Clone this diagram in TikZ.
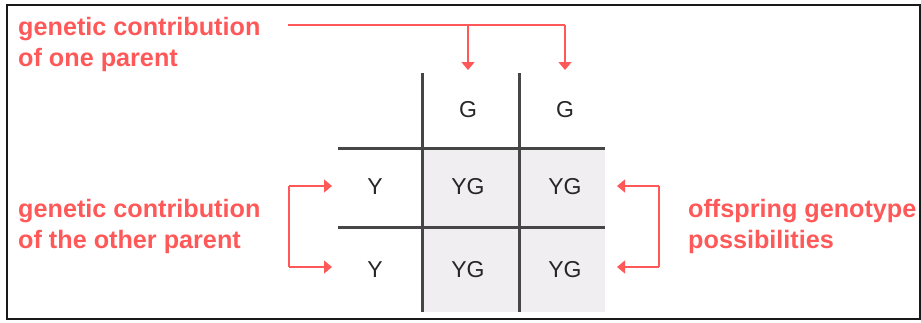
\documentclass[tikz,border=0pt]{standalone}
\usepackage{fontspec}
\setmainfont{Liberation Sans}
\usetikzlibrary{arrows.meta}
\definecolor{lblred}{RGB}{255,88,88}
\definecolor{gridgray}{RGB}{70,70,70}
\definecolor{cellfill}{RGB}{240,238,240}
\tikzset{
  lbl/.style={text=lblred, font=\bfseries\fontsize{25.2}{30.5}\selectfont, align=left, inner sep=0pt, anchor=base west},
  cell/.style={text=black!85, font=\fontsize{23}{23}\selectfont, inner sep=0pt},
  gridline/.style={draw=gridgray, line width=3pt},
  redarrow/.style={draw=lblred, line width=1.4pt, -{Triangle[width=13pt,length=8pt]}},
  redline/.style={draw=lblred, line width=1.4pt},
}
\begin{document}
\begin{tikzpicture}[x=1pt,y=-1pt]
\useasboundingbox (0,0) rectangle (921,322);
% frame
\draw[line width=2pt, draw=black!90] (7,5) rectangle (920,319);
% shaded offspring cells
\fill[cellfill] (422,148) rectangle (605,312);
% grid
\draw[gridline] (422,73) -- (422,312);
\draw[gridline] (519,73) -- (519,312);
\draw[gridline] (338,148) -- (605,148);
\draw[gridline] (338,227) -- (605,227);
% cell labels
\node[cell] (g1) at (468,110) {G};
\node[cell] (g2) at (565,110) {G};
\node[cell] (y1) at (375,187) {Y};
\node[cell] (y2) at (375,270) {Y};
\node[cell] (c11) at (468,187) {YG};
\node[cell] (c12) at (565,187) {YG};
\node[cell] (c21) at (468,270) {YG};
\node[cell] (c22) at (565,270) {YG};
% labels (anchor at baseline of last line)
\node[lbl] (top) at (18,66) {genetic contribution\\of one parent};
\node[lbl] (left) at (18,248) {genetic contribution\\of the other parent};
\node[lbl] (right) at (688,248) {offspring genotype\\possibilities};
% coordinates for connectors
\coordinate (ts) at (288,25);
\coordinate (tj) at (g1 |- ts);
\coordinate (tk) at (g2 |- ts);
\coordinate (ta1) at (468,70);
\coordinate (ta2) at (565,70);
\coordinate (lb1) at (289,186);
\coordinate (lb2) at (289,267);
\coordinate (la1) at (332,186);
\coordinate (la2) at (332,267);
\coordinate (rb1) at (659,186);
\coordinate (rb2) at (659,267);
\coordinate (ra1) at (617,186);
\coordinate (ra2) at (617,267);
% connectors
\draw[redline] (ts) -- (tk);
\draw[redarrow] (tj) -- (ta1);
\draw[redarrow] (tk) -- (ta2);
\draw[redline] (lb1) -- (lb2);
\draw[redarrow] (lb1) -- (la1);
\draw[redarrow] (lb2) -- (la2);
\draw[redline] (rb1) -- (rb2);
\draw[redarrow] (rb1) -- (ra1);
\draw[redarrow] (rb2) -- (ra2);
\end{tikzpicture}
\end{document}
